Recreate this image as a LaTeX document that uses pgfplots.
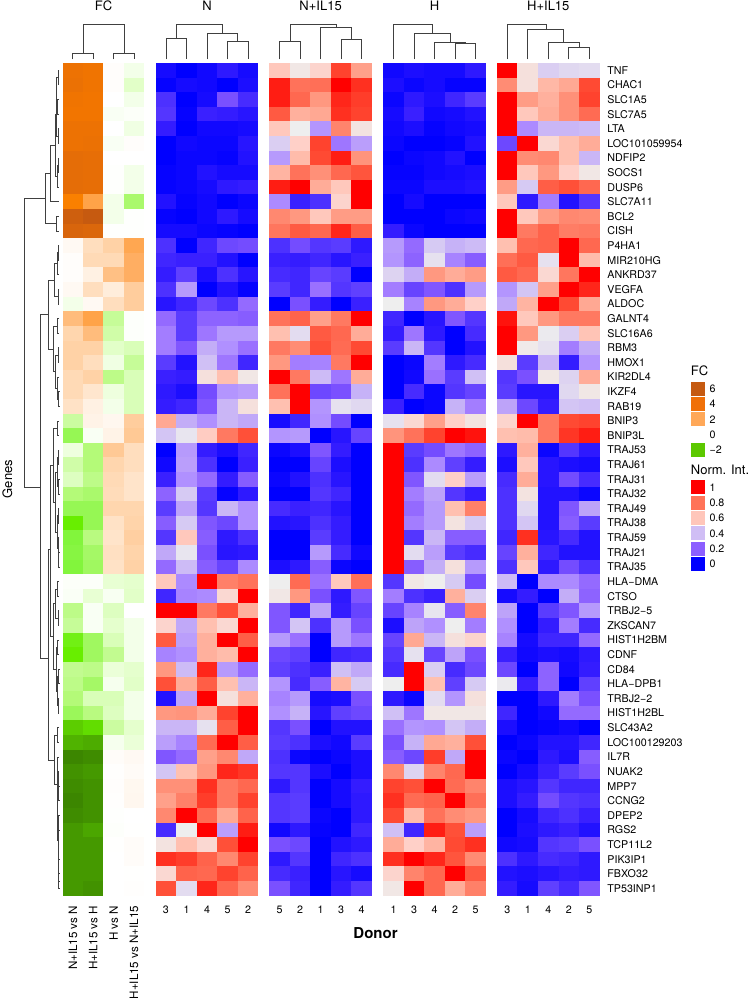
\documentclass[border=0pt]{standalone}
\usepackage{fontspec}
\setmainfont{TeX Gyre Heros}
\usepackage{pgfplots}
\usepackage{pgfplotstable}
\pgfplotsset{compat=1.18}
\newcommand\smallfs{\fontsize{10.7}{12}\selectfont}
\newcommand\rotfs{\fontsize{11.6}{13}\selectfont}
\newcommand\largefs{\fontsize{13}{15}\selectfont}
\pgfdeclareplotmark{cell}{\pgfpathrectangle{\pgfqpoint{-10.3pt}{-7.34pt}}{\pgfqpoint{20.6pt}{14.68pt}}\pgfusepathqfill}
\pgfplotsset{
 colormap={normint}{rgb255(0cm)=(0,0,255) rgb255(5cm)=(28,14,255) rgb255(10cm)=(58,32,255) rgb255(15cm)=(90,60,255) rgb255(20cm)=(122,80,255) rgb255(25cm)=(154,112,255) rgb255(30cm)=(176,144,255) rgb255(35cm)=(192,168,248) rgb255(40cm)=(208,192,245) rgb255(45cm)=(224,216,240) rgb255(50cm)=(238,238,238) rgb255(54cm)=(245,224,220) rgb255(58cm)=(255,208,200) rgb255(62cm)=(255,192,176) rgb255(67cm)=(255,172,152) rgb255(72cm)=(255,152,128) rgb255(78cm)=(255,128,104) rgb255(85cm)=(255,104,80) rgb255(90cm)=(255,80,56) rgb255(95cm)=(255,48,32) rgb255(100cm)=(255,0,0)},
 colormap={fcmap}{rgb255(0cm)=(58,128,0) rgb255(2cm)=(63,140,0) rgb255(12cm)=(92,205,0) rgb255(14cm)=(104,238,0) rgb255(17cm)=(130,245,60) rgb255(22cm)=(180,250,120) rgb255(27cm)=(226,255,200) rgb255(32cm)=(255,255,255) rgb255(42cm)=(255,214,174) rgb255(52cm)=(255,170,90) rgb255(62cm)=(255,136,0) rgb255(72cm)=(242,117,0) rgb255(82cm)=(224,106,10) rgb255(92cm)=(198,90,16)},
 panel/.style={scale only axis, height=832.7pt, ymin=-0.5, ymax=56.5, y dir=reverse,
  axis line style={draw=none}, tick style={draw=none}, major tick length=0pt,
  ytick=\empty, xtick={0,...,4}, xmin=-0.5, xmax=4.5, width=102.6pt,
  tick label style={font=\smallfs}, clip=false,
  xticklabel style={inner sep=0pt, anchor=base, yshift=-18pt},
  title style={font=\largefs, at={(0.5,1)}, anchor=base, yshift=46pt},
  scatter/use mapped color={fill=mapped color, draw=none}},
 normpanel/.style={panel, colormap name=normint, point meta min=0, point meta max=100},
 cellplot/.style={scatter, only marks, mark=cell, point meta=explicit},
}
% FC: N+IL15 vs N, H+IL15 vs H, H vs N, H+IL15 vs N+IL15
\pgfplotstableread{
c0 c1 c2 c3
4.3 4.1 0.05 -0.2
4.4 4.1 0.05 -0.5
4.1 4.0 0 -0.2
4.0 4.0 -0.1 -0.05
4.3 4.3 0 -0.25
4.3 4.4 -0.1 0.05
4.7 4.6 0 0
4.7 4.6 -0.02 -0.2
4.7 4.6 -0.02 -0.2
3.4 2.2 -0.2 -1.1
5.7 6.0 -0.2 -0.02
5.3 5.2 -0.02 -0.02
0.15 0.8 1.1 2.1
0.05 0.9 0.9 1.9
0.05 0.35 1.5 1.9
0.15 0.8 0.45 1.2
-0.2 0.15 0.8 1.2
1.6 2.2 -0.8 -0.04
1.0 1.6 -0.7 -0.04
1.1 1.1 -0.5 -0.6
1.1 0.8 -0.25 -0.8
0.9 1.1 -0.9 -0.6
0.9 0.6 -0.3 -0.6
0.7 0.35 -0.2 -0.6
-0.75 0.3 0.2 1.2
-1.3 -0.1 0.3 1.3
-0.3 -1.0 1.3 0.8
-0.7 -1.0 1.0 0.8
-0.55 -0.9 0.9 0.65
-1.0 -1.1 0.85 0.65
-1.3 -1.3 1.0 1.0
-1.8 -1.3 0.7 1.05
-1.5 -0.95 0.65 1.15
-1.45 -1.15 0.75 1.05
-1.5 -1.2 0.7 1.1
-0.05 -0.05 -0.4 -0.45
-0.08 -0.4 -0.12 -0.5
-0.9 -0.1 -0.55 0
-0.8 -0.1 -0.45 -0.2
-1.7 -1.2 -0.6 -0.2
-1.8 -1.2 -0.85 -0.2
-0.85 -0.9 -0.35 -0.45
-0.9 -1.15 -0.15 -0.5
-1.0 -0.6 -0.6 -0.2
-1.25 -0.95 -0.55 -0.2
-2.0 -1.9 -0.75 -0.45
-2.4 -2.5 -0.15 -0.35
-3.1 -3.0 0.08 0.15
-2.9 -2.8 0.02 0.1
-3.0 -2.9 0.04 0.18
-3.1 -2.9 0.03 0.2
-3.0 -2.9 -0.02 0
-2.8 -2.6 -0.04 0.01
-2.8 -2.8 0.01 0.08
-2.8 -2.8 0 0.08
-2.8 -2.8 0 0.01
-2.8 -2.9 0 0.03
}\tabFC
% N: donors 3 1 4 5 2
\pgfplotstableread{
c0 c1 c2 c3 c4
4 0 3 8 4
1 4 3 0 5
13 0 4 20 12
14 1 10 9 7
9 0 3 3 4
0 3 2 2 7
0 2 2 1 6
1 2 6 4 4
1 2 4 8 9
6 1 3 0 2
1 0 3 8 4
4 4 2 1 0
13 0 11 18 19
11 10 10 6 0
9 16 5 13 7
13 32 0 6 1
7 11 18 13 24
24 15 23 23 22
27 15 26 32 32
27 21 36 30 25
15 6 40 26 11
10 9 54 62 52
8 5 19 31 33
9 11 21 38 54
68 36 30 38 35
41 48 59 80 90
0 32 9 5 11
3 33 13 0 10
10 30 24 9 22
23 42 15 1 8
15 34 14 38 30
22 42 21 18 30
14 60 22 8 13
35 48 20 7 8
24 39 22 17 29
60 29 100 78 82
11 28 29 56 100
100 100 80 90 66
57 35 62 56 100
88 33 66 100 87
28 30 66 63 100
72 39 96 32 24
90 67 87 62 38
6 34 100 54 66
72 73 67 92 100
38 38 47 87 100
33 28 84 100 87
21 24 70 76 35
41 62 72 96 94
74 74 95 80 85
70 78 93 80 92
76 100 84 68 86
12 50 100 33 97
53 62 56 90 100
95 93 86 76 92
56 86 85 92 86
90 46 96 85 75
}\tabN
% N+IL15: donors 5 2 1 3 4
\pgfplotstableread{
c0 c1 c2 c3 c4
60 52 57 92 70
97 82 83 100 95
97 85 72 96 93
88 66 68 95 92
60 50 31 77 53
43 58 92 26 33
32 63 91 97 73
65 82 74 85 89
97 100 67 60 100
29 10 13 57 100
76 72 60 71 71
81 88 85 96 87
13 19 14 15 8
10 9 11 7 10
12 11 17 15 0
15 11 25 14 16
0 20 9 0 10
82 86 70 80 100
62 46 88 85 67
80 75 90 84 91
72 27 28 80 100
100 80 39 26 67
82 100 18 20 37
62 100 31 47 45
4 11 30 19 0
31 32 0 7 17
2 5 21 9 0
0 0 17 5 0
2 6 13 7 0
0 0 14 11 0
12 10 11 7 0
6 7 13 9 0
0 0 15 9 0
0 0 32 12 3
5 8 22 2 0
50 84 25 60 83
52 72 20 8 21
21 11 34 9 17
21 41 13 32 20
32 25 0 32 26
18 16 0 11 12
16 13 10 40 35
31 12 22 65 42
28 32 4 5 20
30 37 7 16 18
14 20 0 6 6
15 13 5 3 15
13 2 0 2 5
14 14 5 0 5
8 14 0 4 9
14 15 0 4 8
14 15 2 0 8
3 8 1 0 11
20 18 0 6 8
8 14 0 11 13
12 10 0 7 4
20 11 0 9 14
}\tabNI
% H: donors 1 3 4 2 5
\pgfplotstableread{
c0 c1 c2 c3 c4
3 5 4 4 8
5 2 4 1 1
2 8 5 11 15
4 10 3 4 6
3 5 1 3 4
2 0 0 1 6
0 2 3 6 0
1 1 3 4 5
2 2 5 5 6
0 4 0 0 0
0 0 0 2 3
9 2 0 0 0
32 24 42 37 39
31 23 47 28 22
44 36 72 67 71
27 17 21 13 32
50 28 72 67 58
11 0 7 21 14
9 26 8 0 12
15 38 14 0 6
0 2 27 8 12
0 3 25 15 40
0 12 2 14 17
10 0 2 37 27
47 56 70 58 53
73 82 92 100 98
100 15 19 26 23
100 13 29 16 9
100 21 46 58 33
100 27 34 14 9
100 24 32 62 78
100 27 32 53 42
100 14 38 22 22
100 46 33 15 12
100 22 36 54 32
14 52 50 42 19
27 13 10 66 43
17 28 48 22 77
5 34 30 50 27
17 68 38 54 57
14 47 17 34 20
12 100 43 12 18
50 100 62 16 42
8 2 46 31 54
40 26 52 52 52
25 31 30 41 36
20 37 68 66 90
22 18 93 35 100
76 44 77 85 100
92 90 100 84 77
95 84 86 100 83
91 63 82 75 72
40 11 97 90 33
67 58 65 91 95
95 100 96 89 75
57 77 85 100 88
52 100 85 67 78
}\tabH
% H+IL15: donors 3 1 4 2 5
\pgfplotstableread{
c0 c1 c2 c3 c4
100 54 43 45 46
75 54 64 68 91
100 71 66 74 92
100 60 67 74 84
100 29 38 38 39
18 100 56 62 67
100 75 76 62 38
100 60 72 58 52
71 42 87 90 85
60 8 27 6 14
100 60 71 76 75
100 80 86 79 80
62 85 86 100 85
83 88 47 100 63
88 85 56 81 100
31 41 70 100 96
35 65 100 91 68
98 60 72 80 80
100 72 49 43 61
100 51 47 27 36
54 15 38 9 31
14 20 52 44 67
15 7 7 45 52
34 18 9 41 40
57 100 80 91 92
62 63 80 94 97
8 66 2 14 8
5 60 7 5 4
12 67 7 19 12
13 53 6 6 2
13 45 6 21 34
13 41 6 22 15
11 95 7 12 6
17 66 11 6 6
13 60 8 19 13
39 0 29 29 24
4 9 0 36 23
34 0 15 21 32
30 0 9 27 12
28 4 11 11 24
10 3 5 4 8
18 0 23 3 9
49 10 23 0 16
0 0 8 27 20
11 0 3 24 24
5 0 1 3 0
0 2 6 6 11
2 0 8 5 22
0 4 10 15 20
5 7 14 11 11
5 9 19 14 13
0 4 11 13 10
0 5 8 10 6
3 4 14 15 20
13 8 12 11 8
6 5 7 9 8
9 4 16 12 21
}\tabHI
\begin{document}
\begin{tikzpicture}
\path[use as bounding box] (0,0) rectangle (750pt,998pt);
% FC
\begin{axis}[panel, at={(62.7pt,102.3pt)}, anchor=south west, width=81.6pt, xmin=-0.5, xmax=3.5,
  colormap name=fcmap, point meta min=-3.2, point meta max=6, title={FC},
  xtick={0,1,2,3}, xticklabels={N+IL15 vs N,H+IL15 vs H,H vs N,H+IL15 vs N+IL15},
  xticklabel style={rotate=90, anchor=east, inner sep=0pt, xshift=8pt, font=\rotfs}]
\pgfplotsinvokeforeach{0,...,3}{\addplot[cellplot] table[x expr=#1, y expr=\coordindex, meta=c#1] {\tabFC};}
\end{axis}
% N
\begin{axis}[normpanel, at={(155.7pt,102.3pt)}, anchor=south west, title={N}, xticklabels={3,1,4,5,2}]
\pgfplotsinvokeforeach{0,...,4}{\addplot[cellplot] table[x expr=#1, y expr=\coordindex, meta=c#1] {\tabN};}
\end{axis}
% N+IL15
\begin{axis}[normpanel, at={(269.3pt,102.3pt)}, anchor=south west, title={N+IL15}, xticklabels={5,2,1,3,4}]
\pgfplotsinvokeforeach{0,...,4}{\addplot[cellplot] table[x expr=#1, y expr=\coordindex, meta=c#1] {\tabNI};}
\end{axis}
% H
\begin{axis}[normpanel, at={(383.3pt,102.3pt)}, anchor=south west, title={H}, xticklabels={1,3,4,2,5}]
\pgfplotsinvokeforeach{0,...,4}{\addplot[cellplot] table[x expr=#1, y expr=\coordindex, meta=c#1] {\tabH};}
\end{axis}
% H+IL15
\begin{axis}[normpanel, at={(497pt,102.3pt)}, anchor=south west, title={H+IL15}, xticklabels={3,1,4,2,5},
  ytick={0,...,56}, yticklabel pos=right,
  yticklabel style={anchor=west, inner sep=0pt, xshift=7.6pt},
  yticklabels={TNF,CHAC1,SLC1A5,SLC7A5,LTA,LOC101059954,NDFIP2,SOCS1,DUSP6,SLC7A11,BCL2,CISH,P4HA1,MIR210HG,ANKRD37,VEGFA,ALDOC,GALNT4,SLC16A6,RBM3,HMOX1,KIR2DL4,IKZF4,RAB19,BNIP3,BNIP3L,TRAJ53,TRAJ61,TRAJ31,TRAJ32,TRAJ49,TRAJ38,TRAJ59,TRAJ21,TRAJ35,HLA−DMA,CTSO,TRBJ2−5,ZKSCAN7,HIST1H2BM,CDNF,CD84,HLA−DPB1,TRBJ2−2,HIST1H2BL,SLC43A2,LOC100129203,IL7R,NUAK2,MPP7,CCNG2,DPEP2,RGS2,TCP11L2,PIK3IP1,FBXO32,TP53INP1}]
\pgfplotsinvokeforeach{0,...,4}{\addplot[cellplot] table[x expr=#1, y expr=\coordindex, meta=c#1] {\tabHI};}
\end{axis}
% dendrograms, legends and outer labels in pixel coordinates
\begin{axis}[at={(0pt,0pt)}, anchor=south west, scale only axis, width=750pt, height=998pt,
  xmin=0, xmax=750, ymin=0, ymax=998, y dir=reverse, hide axis, clip=false]
\addplot[color=black!75, line width=1pt, no markers, unbounded coords=jump] coordinates {
(72.7,59.3)(72.7,53.7)(93.3,53.7)(93.3,59.3)(nan,nan)
(113.7,59.3)(113.7,53.7)(134.3,53.7)(134.3,59.3)(nan,nan)
(83,53.7)(83,24.7)(124,24.7)(124,53.7)(nan,nan)
(166,59.3)(166,38.7)(186.7,38.7)(186.7,59.3)(nan,nan)
(176.3,38.7)(176.3,24.7)(222.3,24.7)(222.3,34)(nan,nan)
(207,59.3)(207,34)(237.7,34)(237.7,42)(nan,nan)
(227.3,59.3)(227.3,42)(248,42)(248,59.3)(nan,nan)
(279.3,59.3)(279.3,41.3)(300.3,41.3)(300.3,59.3)(nan,nan)
(290,41.3)(290,24.7)(336.7,24.7)(336.7,27.7)(nan,nan)
(320.7,59.3)(320.7,27.7)(351.3,27.7)(351.3,40)(nan,nan)
(341.3,59.3)(341.3,40)(361.7,40)(361.7,59.3)(nan,nan)
(393.7,59.3)(393.7,24.7)(432.3,24.7)(432.3,33.3)(nan,nan)
(414,59.3)(414,33.3)(450,33.3)(450,42.7)(nan,nan)
(434.3,59.3)(434.3,42.7)(465.3,42.7)(465.3,43.3)(nan,nan)
(455,59.3)(455,43.3)(475.3,43.3)(475.3,59.3)(nan,nan)
(507,59.3)(507,24.7)(546,24.7)(546,30)(nan,nan)
(527.7,59.3)(527.7,30)(563.3,30)(563.3,42.7)(nan,nan)
(548,59.3)(548,42.7)(579,42.7)(579,47.7)(nan,nan)
(568.7,59.3)(568.7,47.7)(589,47.7)(589,59.3)
};
\addplot[color=black!75, line width=0.85pt, no markers, unbounded coords=jump] coordinates {
(45,198)(24.3,198)(24.3,487)(40,487)(nan,nan)
(59,70.3)(58,70.3)(58,84.9)(59,84.9)(nan,nan)
(59,99.5)(57.5,99.5)(57.5,114.1)(59,114.1)(nan,nan)
(59,128.8)(58,128.8)(58,143.4)(59,143.4)(nan,nan)
(58,77.6)(56.8,77.6)(56.8,106.8)(57.5,106.8)(nan,nan)
(56.8,92)(56,92)(56,136)(58,136)(nan,nan)
(59,158)(58,158)(58,172.6)(59,172.6)(nan,nan)
(58,165.3)(57,165.3)(57,187.2)(59,187.2)(nan,nan)
(56,114)(55,114)(55,176)(57,176)(nan,nan)
(55,145)(50,145)(50,201.8)(59,201.8)(nan,nan)
(59,216.4)(56.5,216.4)(56.5,231)(59,231)(nan,nan)
(50,173)(45,173)(45,223.7)(56.5,223.7)(nan,nan)
(59,245.6)(58,245.6)(58,260.2)(59,260.2)(nan,nan)
(58,252.9)(57,252.9)(57,274.9)(59,274.9)(nan,nan)
(59,289.5)(58,289.5)(58,304.1)(59,304.1)(nan,nan)
(57,263.9)(54.5,263.9)(54.5,296.8)(58,296.8)(nan,nan)
(59,318.7)(57.5,318.7)(57.5,333.3)(59,333.3)(nan,nan)
(59,347.9)(58,347.9)(58,362.5)(59,362.5)(nan,nan)
(59,391.7)(58.5,391.7)(58.5,406.3)(59,406.3)(nan,nan)
(59,377.1)(57.5,377.1)(57.5,399)(58.5,399)(nan,nan)
(58,355.2)(55.5,355.2)(55.5,388)(57.5,388)(nan,nan)
(57.5,326)(53,326)(53,371.6)(55.5,371.6)(nan,nan)
(54.5,280)(48.3,280)(48.3,349)(53,349)(nan,nan)
(48.3,314.5)(40,314.5)(40,658)(48,658)(nan,nan)
(59,421)(57.5,421)(57.5,435.6)(59,435.6)(nan,nan)
(59,450.2)(58,450.2)(58,464.8)(59,464.8)(nan,nan)
(59,479.4)(58.5,479.4)(58.5,494)(59,494)(nan,nan)
(58,457.5)(57.5,457.5)(57.5,486.7)(58.5,486.7)(nan,nan)
(59,508.6)(58,508.6)(58,523.2)(59,523.2)(nan,nan)
(59,552.4)(58.7,552.4)(58.7,567.1)(59,567.1)(nan,nan)
(59,537.8)(58.4,537.8)(58.4,559.7)(58.7,559.7)(nan,nan)
(58,515.9)(57,515.9)(57,548.7)(58.4,548.7)(nan,nan)
(57.5,472)(55,472)(55,532)(57,532)(nan,nan)
(57.5,428.3)(53,428.3)(53,502)(55,502)(nan,nan)
(53,465)(50.7,465)(50.7,636)(53.3,636)(nan,nan)
(59,581.7)(57.5,581.7)(57.5,596.3)(59,596.3)(nan,nan)
(59,610.9)(58,610.9)(58,625.5)(59,625.5)(nan,nan)
(57.5,589)(55,589)(55,618.2)(58,618.2)(nan,nan)
(59,640.1)(57.5,640.1)(57.5,654.7)(59,654.7)(nan,nan)
(59,669.3)(58.5,669.3)(58.5,683.9)(59,683.9)(nan,nan)
(59,698.5)(58,698.5)(58,713.2)(59,713.2)(nan,nan)
(58.5,676.6)(57.5,676.6)(57.5,705.8)(58,705.8)(nan,nan)
(57.5,647.4)(56,647.4)(56,691)(57.5,691)(nan,nan)
(55,603.5)(53.3,603.5)(53.3,669)(56,669)(nan,nan)
(50.7,549)(48,549)(48,760)(54,760)(nan,nan)
(59,727.8)(57.5,727.8)(57.5,742.4)(59,742.4)(nan,nan)
(59,786.2)(58.7,786.2)(58.7,800.8)(59,800.8)(nan,nan)
(59,771.6)(58.3,771.6)(58.3,793.5)(58.7,793.5)(nan,nan)
(59,815.4)(58.5,815.4)(58.5,830)(59,830)(nan,nan)
(59,873.9)(58.8,873.9)(58.8,888.5)(59,888.5)(nan,nan)
(59,859.3)(58.6,859.3)(58.6,881)(58.8,881)(nan,nan)
(59,844.6)(58.4,844.6)(58.4,870)(58.6,870)(nan,nan)
(58.5,822.7)(58,822.7)(58,857)(58.4,857)(nan,nan)
(58.3,782.5)(57.7,782.5)(57.7,840)(58,840)(nan,nan)
(59,757)(57,757)(57,811)(57.7,811)(nan,nan)
(57.5,735)(54,735)(54,784)(57,784)
};
\node[font=\largefs, rotate=90] at (axis cs:7.5,479) {Genes};
\node[font=\fontsize{15}{17}\selectfont\bfseries] at (axis cs:375.5,933) {Donor};
\node[font=\largefs, anchor=base west, inner sep=0pt] at (axis cs:690.7,375) {FC};
\node[font=\largefs, anchor=base west, inner sep=0pt] at (axis cs:690.7,474) {Norm. Int.};
\fill[fill={rgb,255:red,197;green,90;blue,17}] (axis cs:691,381.7) rectangle (axis cs:705.3,395.7);
\fill[fill={rgb,255:red,240;green,112;blue,8}] (axis cs:691,397) rectangle (axis cs:705.3,411);
\fill[fill={rgb,255:red,255;green,168;blue,88}] (axis cs:691,412.3) rectangle (axis cs:705.3,426.3);
\fill[fill={rgb,255:red,92;green,200;blue,0}] (axis cs:691,442.8) rectangle (axis cs:705.3,456.8);
\fill[fill={rgb,255:red,255;green,0;blue,0}] (axis cs:691,480.3) rectangle (axis cs:705.3,494.3);
\fill[fill={rgb,255:red,255;green,115;blue,88}] (axis cs:691,495.7) rectangle (axis cs:705.3,509.7);
\fill[fill={rgb,255:red,255;green,198;blue,186}] (axis cs:691,511) rectangle (axis cs:705.3,525);
\fill[fill={rgb,255:red,208;green,190;blue,245}] (axis cs:691,526.3) rectangle (axis cs:705.3,540.3);
\fill[fill={rgb,255:red,140;green,95;blue,255}] (axis cs:691,541.7) rectangle (axis cs:705.3,555.7);
\fill[fill={rgb,255:red,0;green,0;blue,255}] (axis cs:691,557) rectangle (axis cs:705.3,571);
\node[font=\smallfs, anchor=west, inner sep=0pt] at (axis cs:709.3,388.7) {6};
\node[font=\smallfs, anchor=west, inner sep=0pt] at (axis cs:709.3,404) {4};
\node[font=\smallfs, anchor=west, inner sep=0pt] at (axis cs:709.3,419.3) {2};
\node[font=\smallfs, anchor=west, inner sep=0pt] at (axis cs:709.3,434.5) {0};
\node[font=\smallfs, anchor=west, inner sep=0pt] at (axis cs:709.3,449.8) {−2};
\node[font=\smallfs, anchor=west, inner sep=0pt] at (axis cs:709.3,487.3) {1};
\node[font=\smallfs, anchor=west, inner sep=0pt] at (axis cs:709.3,502.7) {0.8};
\node[font=\smallfs, anchor=west, inner sep=0pt] at (axis cs:709.3,518) {0.6};
\node[font=\smallfs, anchor=west, inner sep=0pt] at (axis cs:709.3,533.3) {0.4};
\node[font=\smallfs, anchor=west, inner sep=0pt] at (axis cs:709.3,548.7) {0.2};
\node[font=\smallfs, anchor=west, inner sep=0pt] at (axis cs:709.3,564) {0};
\end{axis}
\end{tikzpicture}
\end{document}
